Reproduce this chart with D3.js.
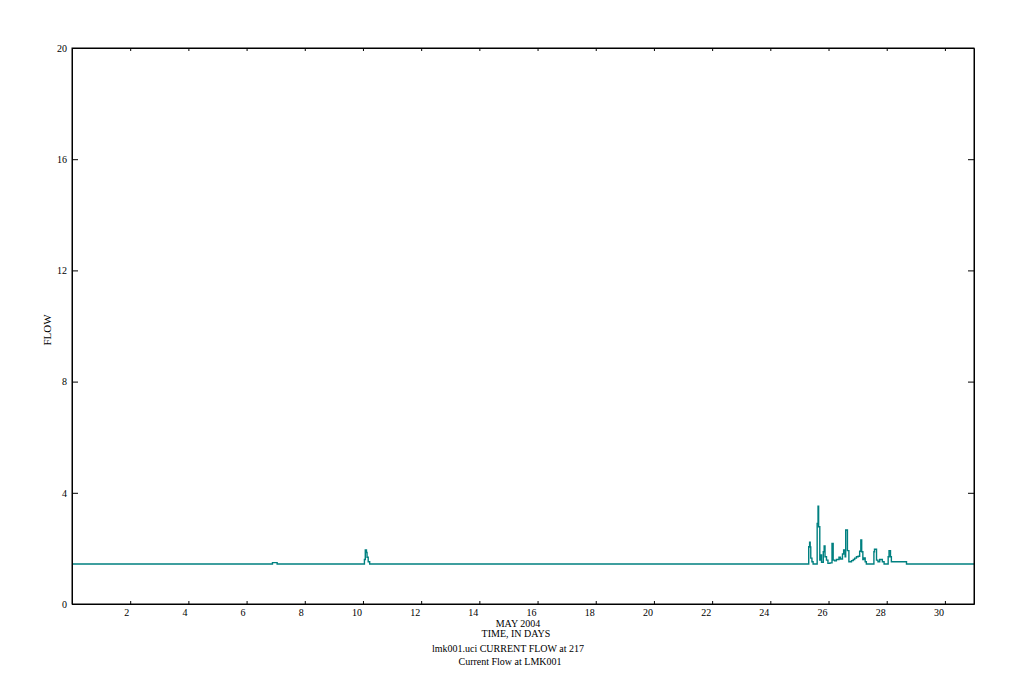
<!DOCTYPE html>
<html>
<head>
<meta charset="utf-8">
<script src="https://cdn.jsdelivr.net/npm/d3@7"></script>
<style>
	body { margin: 0; background: #fff; }
	svg text { font-family: "Liberation Serif", "Times New Roman", serif; font-size: 10px; fill: #000; }
</style>
</head>
<body>
<div id="chart"></div>
<script>

// time in days of May 2004, flow value from that time on (step)
var flowDays = [0, 6.89, 7.05, 10.05, 10.08, 10.12, 10.14, 10.18, 10.23,
	25.32, 25.35, 25.37, 25.39, 25.43, 25.47,
	25.61, 25.64, 25.66, 25.70, 25.73, 25.76,
	25.82, 25.85, 25.88, 25.93, 25.98, 26.05,
	26.12, 26.16, 26.21, 26.27, 26.36, 26.41, 26.48, 26.52, 26.57, 26.59, 26.65, 26.70,
	26.79, 26.85, 26.90, 26.96, 27.02, 27.07, 27.11, 27.14, 27.18, 27.21, 27.26, 27.30,
	27.56, 27.58, 27.65, 27.70, 27.76, 27.85, 27.91,
	28.05, 28.08, 28.13, 28.16, 28.68, 31];
var flowValues = [1.44, 1.49, 1.44, 1.60, 1.94, 1.85, 1.68, 1.52, 1.44,
	2.06, 2.22, 2.05, 1.65, 1.52, 1.44,
	2.90, 3.52, 2.78, 1.58, 1.76, 1.50,
	1.88, 2.09, 1.70, 1.58, 1.46, 1.48,
	2.18, 1.58, 1.55, 1.60, 1.68, 1.62, 1.80, 1.94, 1.70, 2.66, 1.92, 1.52,
	1.56, 1.60, 1.65, 1.70, 1.72, 1.90, 2.30, 1.88, 1.60, 1.66, 1.52, 1.44,
	1.88, 1.97, 1.58, 1.52, 1.60, 1.52, 1.44,
	1.70, 1.92, 1.70, 1.52, 1.44, 1.44];

var xTicks = [2, 4, 6, 8, 10, 12, 14, 16, 18, 20, 22, 24, 26, 28, 30];
var yTicks = [0, 4, 8, 12, 16, 20];

var titleLines = ["MAY 2004", "TIME, IN DAYS", "lmk001.uci CURRENT FLOW at 217", "Current Flow at LMK001"];
var yLabel = "FLOW";

var width = 1022,
	height = 700,
	plotLeft = 72,
	plotRight = 974,
	plotTop = 48,
	plotBottom = 604;

var svg = d3.select("#chart").append("svg")
	.attr("width", width)
	.attr("height", height);

var x = d3.scaleLinear().domain([0, 31]).range([plotLeft, plotRight]);
var y = d3.scaleLinear().domain([0, 20]).range([plotBottom, plotTop]);

var points = flowDays.map(function(d, i) { return [d, flowValues[i]]; });

// data line
svg.append("path")
	.datum(points)
	.attr("fill", "none")
	.attr("stroke", "#008080")
	.attr("stroke-width", 1.4)
	.attr("d", d3.line()
		.curve(d3.curveStepAfter)
		.x(function(d) { return x(d[0]); })
		.y(function(d) { return y(d[1]); }));

// axes, all ticks inward
var xAxis = svg.append("g")
	.attr("transform", "translate(0," + plotBottom + ")")
	.call(d3.axisBottom(x).tickValues(xTicks).tickSize(-3).tickSizeOuter(0).tickPadding(5));
xAxis.selectAll("text").attr("text-anchor", "end").attr("dx", -1.5);

svg.append("g")
	.attr("transform", "translate(0," + plotTop + ")")
	.call(d3.axisTop(x).tickValues(xTicks).tickSize(-3).tickSizeOuter(0).tickFormat(""));

svg.append("g")
	.attr("transform", "translate(" + plotLeft + ",0)")
	.call(d3.axisLeft(y).tickValues(yTicks).tickSize(-6).tickSizeOuter(0).tickPadding(5));

svg.append("g")
	.attr("transform", "translate(" + plotRight + ",0)")
	.call(d3.axisRight(y).tickValues(yTicks).tickSize(-6).tickSizeOuter(0).tickFormat(""));

svg.selectAll(".domain, .tick line")
	.attr("stroke", "#000")
	.attr("stroke-width", 1);
svg.selectAll(".tick text").style("font-size", "10px");

// frame
svg.append("rect")
	.attr("x", plotLeft)
	.attr("y", plotTop)
	.attr("width", plotRight - plotLeft)
	.attr("height", plotBottom - plotTop)
	.attr("fill", "none")
	.attr("stroke", "#000")
	.attr("stroke-width", 1);

// titles under the plot
var titleY = [627, 637, 652, 665];
var titleX = [518, 516, 508, 510];
svg.selectAll(".title")
	.data(titleLines)
	.enter()
	.append("text")
	.attr("class", "title")
	.attr("x", function(d, i) { return titleX[i]; })
	.attr("y", function(d, i) { return titleY[i]; })
	.attr("text-anchor", "middle")
	.text(function(d) { return d; });

svg.append("text")
	.attr("transform", "translate(51,330) rotate(-90)")
	.attr("text-anchor", "middle")
	.style("font-size", "11px")
	.text(yLabel);

</script>
</body>
</html>
